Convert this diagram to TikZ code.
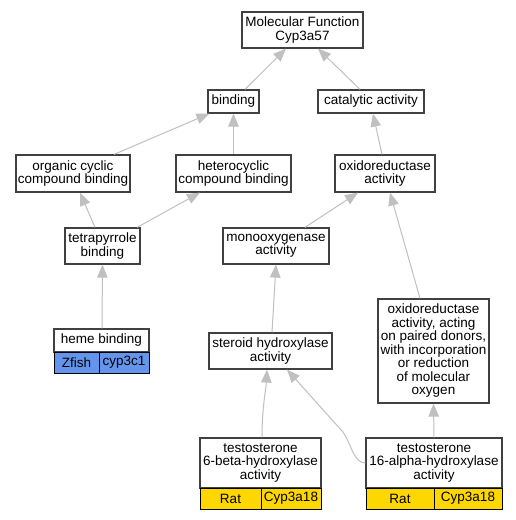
\documentclass[tikz,border=0pt]{standalone}
\usepackage{fontspec}
\setmainfont{Liberation Sans}
\usetikzlibrary{arrows.meta}

\tikzset{
	term/.style={draw=black!75, line width=1.2pt, fill=white, align=center, inner sep=0pt, font=\fontsize{13.5}{13.5}\selectfont},
	zfish/.style={term, draw=black, line width=0.9pt, fill=zfishblue},
	rat/.style={term, draw=black, line width=0.9pt, fill=ratgold},
	isa/.style={draw=linegray, line width=1pt, -{Triangle[length=13pt,width=10.5pt]}}
}
\definecolor{zfishblue}{HTML}{6495ED}
\definecolor{ratgold}{HTML}{FFD700}
\definecolor{linegray}{HTML}{C0C0C0}

\begin{document}
\begin{tikzpicture}[x=1pt, y=-1pt]
		%%%%% START %%%%%
		\useasboundingbox[fill=white] (0, 0) rectangle (516, 520);
		
		% terms
		\node[term, minimum width=121pt, minimum height=36pt] (mf) at (302.5, 30) {Molecular Function\\Cyp3a57};
		\node[term, minimum width=51pt, minimum height=23pt] (bind) at (233.5, 101.5) {binding};
		\node[term, minimum width=106pt, minimum height=23pt] (cat) at (371, 101.5) {catalytic activity};
		\node[term, minimum width=114pt, minimum height=37pt] (orgcyc) at (73, 173.5) {organic cyclic\\compound binding};
		\node[term, minimum width=115pt, minimum height=37pt] (hetcyc) at (233.5, 173.5) {heterocyclic\\compound binding};
		\node[term, minimum width=100pt, minimum height=37pt] (oxred) at (385, 173.5) {oxidoreductase\\activity};
		\node[term, minimum width=75pt, minimum height=36pt] (tetra) at (102.5, 246) {tetrapyrrole\\binding};
		\node[term, minimum width=106pt, minimum height=36pt] (mono) at (276, 246) {monooxygenase\\activity};
		\node[term, minimum width=123pt, minimum height=36pt] (steroid) at (270.5, 351) {steroid hydroxylase\\activity};
		\node[term, minimum width=111pt, minimum height=104pt] (oxpair) at (433.5, 351) {oxidoreductase\\activity, acting\\on paired donors,\\with incorporation\\or reduction\\of molecular\\oxygen};
		
		% annotated terms
		\node[term, minimum width=95pt, minimum height=23pt] (heme) at (101.5, 340.5) {heme binding};
		\node[zfish, minimum width=45pt, minimum height=21pt] (hemesp) at (76.5, 362.5) {Zfish};
		\node[zfish, minimum width=50pt, minimum height=21pt] (hemegene) at (124, 362.5) {cyp3c1};
		
		\node[term, minimum width=121pt, minimum height=50pt] (sixb) at (260.5, 463) {testosterone\\6-beta-hydroxylase\\activity};
		\node[rat, minimum width=61pt, minimum height=21pt] (sixbsp) at (230.5, 498.5) {Rat};
		\node[rat, minimum width=60pt, minimum height=21pt] (sixbgene) at (291, 498.5) {Cyp3a18};
		
		\node[term, minimum width=136pt, minimum height=50pt] (sixteena) at (434, 463) {testosterone\\16-alpha-hydroxylase\\activity};
		\node[rat, minimum width=68pt, minimum height=21pt] (sixteenasp) at (400, 498.5) {Rat};
		\node[rat, minimum width=68pt, minimum height=21pt] (sixteenagene) at (468, 498.5) {Cyp3a18};
		
		% is_a links
		\draw[isa] ([xshift=11.5pt]bind.north) -- ([xshift=-16.5pt]mf.south);
		\draw[isa] ([xshift=-11pt]cat.north) -- ([xshift=15.5pt]mf.south);
		\draw[isa] ([xshift=41pt]orgcyc.north) -- ([xshift=2pt]bind.south west);
		\draw[isa] (hetcyc.north) -- (bind.south);
		\draw[isa] ([xshift=-3pt]oxred.north) -- ([xshift=2pt]cat.south);
		\draw[isa] ([xshift=-7.5pt]tetra.north) -- ([xshift=7pt]orgcyc.south);
		\draw[isa] ([xshift=34.5pt]tetra.north) -- ([xshift=-33.5pt]hetcyc.south);
		\draw[isa] ([xshift=29pt]mono.north) -- ([xshift=-27pt]oxred.south);
		\draw[isa] ([xshift=-13.5pt]oxpair.north) -- ([xshift=5pt]oxred.south);
		\draw[isa] ([xshift=0.5pt]heme.north) -- (tetra.south);
		\draw[isa] ([xshift=1.5pt]steroid.north) -- (mono.south);
		\draw[isa] ([xshift=1.5pt]sixb.north) .. controls +(0,-30) and +(-1,20) .. ([xshift=-3.5pt]steroid.south);
		\coordinate (bend) at (343, 432);
		\draw[isa] (sixteena.west) .. controls +(-12,0) and +(8,11) .. (bend) -- ([xshift=16.5pt]steroid.south);
		\draw[isa] (sixteena.north) -- (oxpair.south);
		
		%%%%% END %%%%%
	\end{tikzpicture}
\end{document}
